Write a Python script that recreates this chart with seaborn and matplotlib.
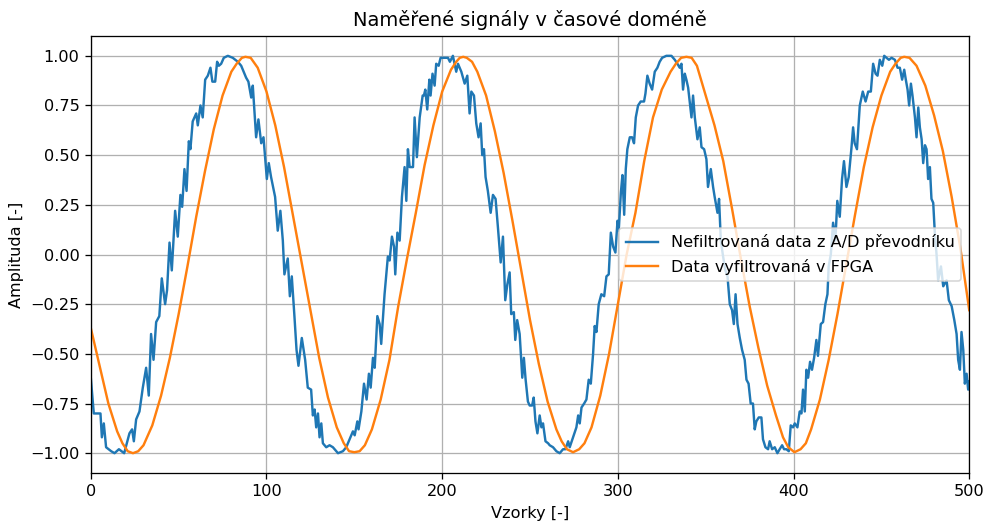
import matplotlib
matplotlib.use("Agg")
import matplotlib.pyplot as plt
import seaborn as sns

# raw A/D samples (irregular sample positions)
blue_x = [0.0, 1.7, 5.5, 6.3, 7.4, 8.7, 11.6, 13.5, 16.0, 19.0, 22.0, 23.5, 24.5, 25.8, 27.7, 29.6,
          31.5, 33.0, 34.3, 35.7, 37.2, 39.0, 40.4, 42.3, 43.4, 44.8, 46.1, 48.0, 49.5, 51.0, 52.0,
          53.3, 54.5, 55.8, 56.7, 58.0, 60.0, 60.9, 62.4, 63.7, 65.1, 66.6, 68.1, 69.2, 70.8, 71.9,
          72.9, 74.2, 75.7, 78.0, 80.8, 83.7, 85.6, 88.4, 89.7, 91.3, 92.2, 94.1, 95.4, 97.0, 98.3,
          100.2, 101.3, 102.6, 104.9, 106.4, 107.9, 109.3, 110.2, 112.1, 113.3, 114.4, 115.9, 117.1,
          118.2, 120.1, 122.0, 123.5, 125.4, 126.4, 127.4, 128.3, 129.3, 130.2, 131.2, 132.1, 134.0,
          135.9, 137.8, 140.7, 143.5, 145.4, 147.3, 149.2, 150.2, 151.7, 152.4, 154.0, 155.5, 157.0,
          158.3, 159.3, 160.6, 161.6, 163.1, 164.4, 165.3, 167.2, 169.1, 170.1, 171.4, 172.6, 173.3,
          174.5, 175.8, 177.1, 178.6, 179.6, 180.5, 181.5, 183.4, 184.3, 185.6, 187.2, 188.9, 189.6,
          190.4, 191.5, 192.7, 193.4, 194.5, 195.7, 196.6, 198.0, 199.1, 201.4, 203.3, 204.4, 206.1,
          208.0, 209.0, 210.9, 212.8, 214.3, 215.6, 216.6, 218.1, 219.4, 220.7, 221.9, 222.8, 223.8,
          224.7, 226.0, 227.6, 228.9, 230.4, 231.7, 233.3, 234.6, 235.9, 237.1, 238.4, 239.3, 240.8,
          241.6, 242.7, 244.1, 245.6, 246.5, 247.5, 248.8, 249.8, 251.2, 252.1, 253.1, 254.2, 255.5,
          256.5, 257.4, 258.8, 260.3, 261.2, 263.1, 265.0, 266.9, 268.8, 270.2, 271.7, 272.6, 274.5,
          276.4, 277.4, 278.3, 279.3, 280.8, 282.1, 283.4, 284.6, 285.9, 286.8, 287.8, 289.1, 290.6,
          292.2, 293.5, 294.8, 296.0, 297.3, 298.6, 299.8, 300.5, 301.7, 302.6, 303.6, 304.5, 305.4,
          306.8, 308.1, 309.2, 310.2, 311.5, 313.0, 314.9, 315.7, 316.8, 318.1, 319.5, 321.0, 322.5,
          323.8, 325.2, 327.6, 330.5, 332.4, 333.9, 335.2, 336.2, 337.1, 338.1, 339.0, 340.0, 341.9,
          342.8, 343.8, 345.3, 346.6, 347.6, 349.1, 350.4, 351.3, 352.9, 354.2, 355.1, 356.7, 357.6,
          358.6, 359.9, 361.2, 362.4, 363.7, 365.0, 366.0, 367.0, 368.1, 369.4, 370.7, 372.2, 373.2,
          374.4, 375.6, 376.9, 377.9, 378.8, 380.2, 381.7, 382.6, 384.0, 385.5, 386.4, 387.8, 389.3,
          390.8, 392.1, 393.5, 394.6, 395.9, 397.3, 398.4, 399.7, 400.7, 402.2, 403.5, 404.5, 405.4,
          406.4, 407.3, 408.3, 409.4, 410.5, 411.7, 413.0, 413.9, 415.5, 416.8, 418.1, 419.3, 420.0,
          421.2, 422.5, 423.8, 424.9, 426.3, 427.6, 428.7, 430.1, 431.4, 432.9, 433.9, 434.8, 436.1,
          437.7, 439.4, 441.0, 442.5, 444.0, 445.3, 446.7, 447.8, 449.1, 450.5, 451.6, 452.9, 454.3,
          455.8, 457.7, 459.2, 460.5, 461.8, 463.0, 463.9, 464.9, 465.8, 466.8, 467.7, 469.1, 470.0,
          471.0, 471.9, 472.9, 473.8, 474.8, 475.7, 476.6, 477.6, 478.5, 479.5, 480.4, 481.4, 482.3,
          483.9, 485.2, 487.1, 488.4, 490.0, 491.5, 492.8, 493.7, 494.7, 495.6, 496.6, 497.5, 498.5,
          499.4, 500.0]
blue_y = [-0.62, -0.80, -0.80, -0.92, -0.85, -0.97, -0.99, -1.00, -0.98, -1.00, -0.90, -0.88, -0.94,
          -0.83, -0.79, -0.67, -0.57, -0.71, -0.40, -0.53, -0.34, -0.31, -0.12, -0.25, -0.18, 0.06,
          -0.08, 0.22, 0.09, 0.30, 0.24, 0.43, 0.32, 0.57, 0.53, 0.67, 0.71, 0.65, 0.75, 0.69, 0.88,
          0.90, 0.94, 0.87, 0.87, 0.97, 0.95, 0.96, 0.99, 1.00, 0.99, 0.97, 0.95, 0.89, 0.87, 0.79,
          0.85, 0.59, 0.68, 0.56, 0.59, 0.38, 0.46, 0.39, 0.29, 0.12, 0.22, 0.07, -0.10, -0.02, -0.21,
          -0.11, -0.31, -0.48, -0.56, -0.42, -0.53, -0.67, -0.68, -0.81, -0.78, -0.87, -0.80, -0.92,
          -0.85, -0.95, -0.97, -0.96, -0.97, -1.00, -0.99, -0.97, -0.93, -0.89, -0.91, -0.84, -0.88,
          -0.79, -0.65, -0.73, -0.60, -0.67, -0.52, -0.57, -0.31, -0.35, -0.45, -0.20, -0.01, -0.03,
          0.09, 0.04, -0.10, 0.11, 0.07, 0.29, 0.44, 0.27, 0.53, 0.44, 0.44, 0.69, 0.49, 0.69, 0.80,
          0.80, 0.83, 0.73, 0.88, 0.80, 0.91, 0.85, 0.96, 0.95, 0.99, 0.99, 0.99, 0.97, 1.00, 0.92,
          0.96, 0.92, 0.86, 0.90, 0.71, 0.82, 0.80, 0.66, 0.59, 0.66, 0.50, 0.53, 0.39, 0.32, 0.21,
          0.30, 0.28, 0.14, -0.04, 0.09, -0.23, -0.15, -0.09, -0.30, -0.29, -0.43, -0.33, -0.40, -0.62,
          -0.52, -0.63, -0.74, -0.76, -0.76, -0.72, -0.84, -0.90, -0.81, -0.87, -0.85, -0.94, -0.95,
          -0.96, -0.97, -0.99, -1.00, -0.98, -0.98, -0.94, -0.97, -0.92, -0.87, -0.81, -0.85, -0.77,
          -0.75, -0.73, -0.63, -0.65, -0.50, -0.36, -0.39, -0.25, -0.20, -0.21, -0.11, -0.10, 0.11,
          0.04, 0.01, 0.17, 0.12, 0.31, 0.40, 0.20, 0.43, 0.53, 0.59, 0.59, 0.56, 0.69, 0.75, 0.77,
          0.77, 0.81, 0.90, 0.86, 0.83, 0.92, 0.94, 0.97, 0.99, 1.00, 1.00, 0.98, 0.96, 0.94, 0.96,
          0.83, 0.91, 0.88, 0.84, 0.69, 0.80, 0.69, 0.58, 0.64, 0.54, 0.53, 0.48, 0.34, 0.43, 0.34,
          0.29, 0.21, 0.28, 0.07, -0.01, -0.08, -0.11, -0.25, -0.28, -0.35, -0.20, -0.35, -0.42, -0.48,
          -0.53, -0.63, -0.65, -0.75, -0.75, -0.88, -0.84, -0.82, -0.82, -0.93, -0.97, -0.98, -0.94,
          -0.98, -0.97, -1.00, -0.98, -0.96, -0.98, -0.98, -0.99, -0.86, -0.87, -0.85, -0.87, -0.79,
          -0.80, -0.68, -0.79, -0.58, -0.62, -0.54, -0.58, -0.52, -0.43, -0.51, -0.35, -0.34, -0.25,
          -0.20, -0.06, 0.00, 0.16, 0.07, 0.27, 0.19, 0.38, 0.47, 0.34, 0.39, 0.53, 0.64, 0.56, 0.53,
          0.75, 0.82, 0.77, 0.82, 0.82, 0.96, 0.91, 0.90, 0.98, 0.95, 1.00, 0.99, 0.98, 0.99, 0.98,
          0.94, 0.94, 0.88, 0.93, 0.88, 0.83, 0.75, 0.86, 0.80, 0.69, 0.59, 0.74, 0.64, 0.58, 0.46,
          0.55, 0.53, 0.38, 0.44, 0.28, 0.26, 0.11, 0.00, -0.13, -0.06, -0.16, -0.13, -0.23, -0.26,
          -0.33, -0.40, -0.53, -0.58, -0.39, -0.48, -0.65, -0.60, -0.68, -0.64]

# FPGA filtered output (denser around the extremes)
fpga_x = [0, 5, 10, 15, 18, 21, 24, 27, 30, 35, 40, 45, 50, 55, 60, 65, 70, 75, 80, 83, 86, 88, 91,
          95, 100, 105, 110, 115, 120, 125, 130, 135, 140, 144, 147, 150, 153, 156, 160, 165, 170,
          175, 180, 185, 190, 195, 200, 205, 208, 210, 212, 214, 217, 220, 225, 230, 235, 240, 245,
          250, 255, 260, 265, 268, 271, 274.5, 278, 281, 285, 290, 295, 300, 305, 310, 315, 320, 325,
          330, 333, 336, 339, 342, 345, 350, 355, 360, 365, 370, 375, 380, 385, 390, 394, 397, 400.5,
          404, 407, 410, 415, 420, 425, 430, 435, 440, 445, 450, 455, 458, 461, 463, 466, 470, 475,
          480, 485, 490, 495, 500]
fpga_y = [-0.37, -0.56, -0.75, -0.89, -0.95, -0.99, -1.00, -0.99, -0.96, -0.86, -0.71, -0.52, -0.30,
          -0.06, 0.19, 0.42, 0.63, 0.80, 0.92, 0.96, 0.99, 0.995, 0.99, 0.94, 0.82, 0.65, 0.44, 0.20,
          -0.04, -0.28, -0.52, -0.72, -0.87, -0.95, -0.99, -0.995, -0.99, -0.96, -0.88, -0.73, -0.53,
          -0.26, -0.02, 0.21, 0.45, 0.65, 0.82, 0.93, 0.97, 0.99, 0.995, 0.99, 0.97, 0.92, 0.80, 0.62,
          0.41, 0.17, -0.08, -0.33, -0.55, -0.74, -0.88, -0.94, -0.98, -0.995, -0.98, -0.95, -0.87,
          -0.71, -0.50, -0.25, 0.00, 0.21, 0.47, 0.69, 0.83, 0.92, 0.96, 0.99, 0.995, 0.99, 0.95, 0.80,
          0.65, 0.47, 0.23, -0.02, -0.26, -0.47, -0.66, -0.81, -0.92, -0.97, -0.995, -0.98, -0.95,
          -0.88, -0.73, -0.53, -0.30, -0.05, 0.20, 0.44, 0.64, 0.80, 0.92, 0.96, 0.99, 0.995, 0.99,
          0.95, 0.85, 0.70, 0.52, 0.29, 0.03, -0.28]

dpi = 116
fig, ax = plt.subplots(figsize=(987 / dpi, 521 / dpi), dpi=dpi)
fig.subplots_adjust(left=0.092, right=0.982, top=0.931, bottom=0.092)

sns.lineplot(x=blue_x, y=blue_y, ax=ax, color="C0", linewidth=1.5,
             label="Nefiltrovaná data z A/D převodníku", sort=False, estimator=None)
sns.lineplot(x=fpga_x, y=fpga_y, ax=ax, color="C1", linewidth=1.5,
             label="Data vyfiltrovaná v FPGA", sort=False, estimator=None)

ax.set_xlim(0, 500)
ax.set_ylim(-1.1, 1.1)
ax.set_title("Naměřené signály v časové doméně")
ax.set_xlabel("Vzorky [-]")
ax.set_ylabel("Amplituda [-]")
ax.grid(True)
ax.legend(loc="center right")

fig.savefig("out.png", dpi=dpi)
